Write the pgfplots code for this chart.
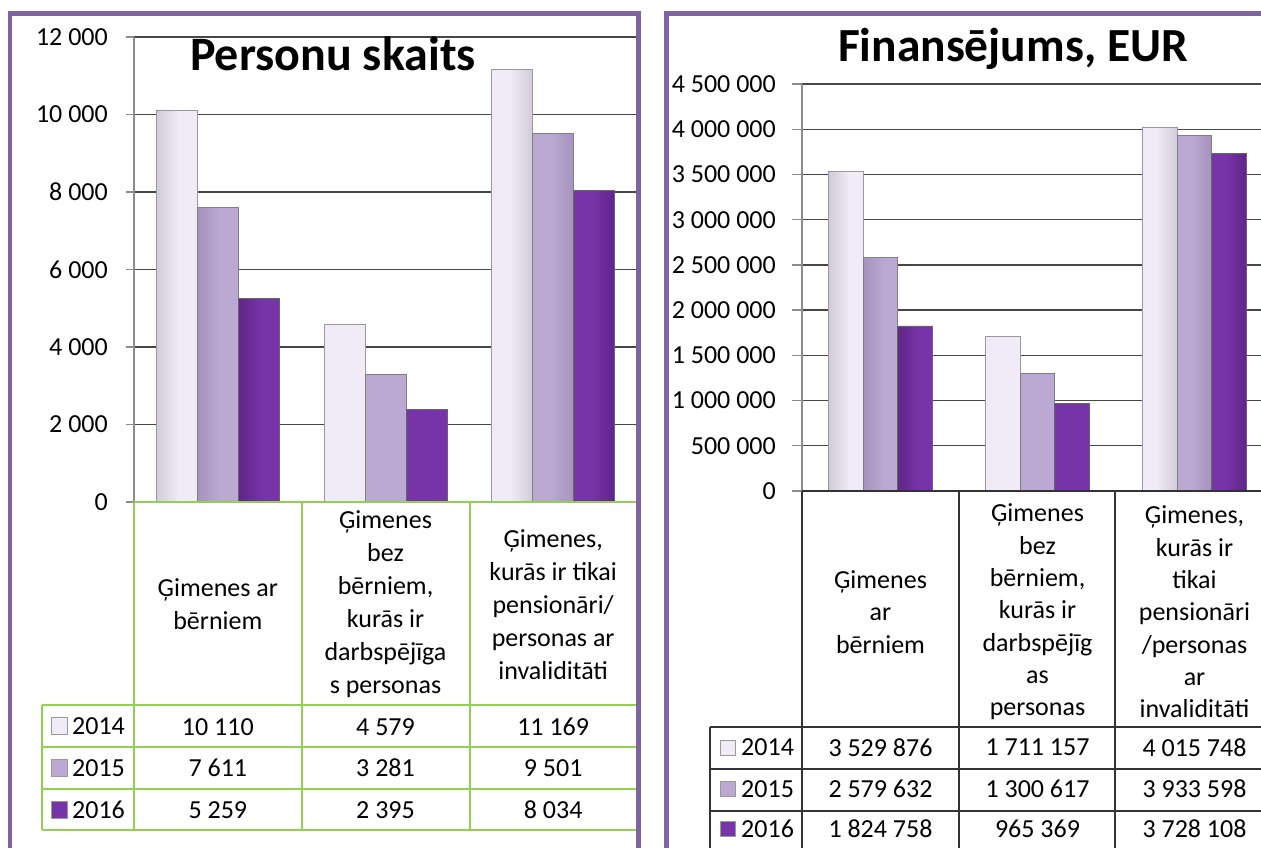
\documentclass[border=0pt]{standalone}
\usepackage{fontspec}
\setmainfont{Carlito}
\usepackage{pgfplots}
\pgfplotsset{compat=1.18}
\usepackage{pgfplotstable}

\definecolor{frame}{HTML}{8064A2}
\definecolor{tgreen}{HTML}{92D050}
\definecolor{cA}{HTML}{F0EBF6}
\definecolor{cAe}{HTML}{D2CCDA}
\definecolor{cB}{HTML}{BBA9D3}
\definecolor{cBe}{HTML}{A593BD}
\definecolor{cC}{HTML}{7634A8}
\definecolor{cCe}{HTML}{5F2588}

\pgfdeclarehorizontalshading{shA}{100bp}{color(0bp)=(cAe); color(25bp)=(cAe); color(28bp)=(cA); color(72bp)=(cA); color(75bp)=(cAe); color(100bp)=(cAe)}
\pgfdeclarehorizontalshading{shB}{100bp}{color(0bp)=(cBe); color(25bp)=(cBe); color(28bp)=(cB); color(72bp)=(cB); color(75bp)=(cBe); color(100bp)=(cBe)}
\pgfdeclarehorizontalshading{shC}{100bp}{color(0bp)=(cCe); color(25bp)=(cCe); color(28bp)=(cC); color(72bp)=(cC); color(75bp)=(cCe); color(100bp)=(cCe)}

\pgfplotstableread{
x a b c
0 10110 7611 5259
1 4579 3281 2395
2 11169 9501 8034
}\persons
\pgfplotstableread{
x a b c
0 3529876 2579632 1824758
1 1711157 1300617 965369
2 4015748 3933598 3728108
}\funds

\newcommand{\myfs}{\fontsize{26}{30}\selectfont}

\pgfplotsset{
  panel/.style={
    scale only axis, anchor=south west,
    xmin=-0.5, xmax=2.5, ymin=0, clip=false,
    axis x line*=bottom, axis y line*=left,
    x axis line style={draw=none},
    y axis line style={-, black!45, line width=1.3pt},
    xtick={0,1,2}, x tick style={draw=none},
    ytick style={black!45, line width=1.3pt},
    tick align=outside,
    yticklabels={},
    ymajorgrids, grid style={black!72, line width=1.3pt},
    scaled y ticks=false,
    /pgf/number format/fixed,
    /pgf/number format/precision=0,
    /pgf/number format/1000 sep={\ },
    /pgf/number format/assume math mode=true,
    xticklabel style={align=center, anchor=center},
  },
  vals/.style={draw=none, mark=none, nodes near coords, point meta=explicit,
    every node near coord/.append style={anchor=center, font=\myfs, black}},
  tlab/.style={draw=none, mark=none, nodes near coords, point meta=y,
    every node near coord/.append style={anchor=east, inner sep=0pt, xshift=-26pt, font=\myfs, black}},
}

\begin{document}
\begin{tikzpicture}
\useasboundingbox (0pt,0pt) rectangle (1261pt,847pt);
\clip (0pt,0pt) rectangle (1261pt,847pt);

% ---------------- left panel ----------------
\begin{axis}[panel, at={(134pt,345pt)}, width=503pt, height=465pt,
  ymax=12000, ytick distance=2000, major tick length=8pt,
  xticklabels={{Ģimenes ar\\bērniem},{Ģimenes\\bez\\bērniem,\\kurās ir\\darbspējīga\\s personas},{Ģimenes,\\kurās ir tikai\\pensionāri/\\personas ar\\invaliditāti}},
  xticklabel style={yshift=-94.5pt, font=\fontsize{26}{33}\selectfont}]
\addplot[ybar, bar width=41pt, bar shift=-41pt, draw=black!40, line width=0.8pt, shading=shA] table[x=x,y=a]{\persons};
\addplot[ybar, bar width=41pt, bar shift=0pt, draw=black!50, line width=0.8pt, shading=shB] table[x=x,y=b]{\persons};
\addplot[ybar, bar width=41pt, bar shift=41pt, draw=black!60, line width=0.8pt, shading=shC] table[x=x,y=c]{\persons};
\addplot[vals] table[x=x, y expr=-5799, meta=a]{\persons};
\addplot[vals] table[x=x, y expr=-6864, meta=b]{\persons};
\addplot[vals] table[x=x, y expr=-7948, meta=c]{\persons};
\addplot[tlab] coordinates {(-0.5,0) (-0.5,2000) (-0.5,4000) (-0.5,6000) (-0.5,8000) (-0.5,10000) (-0.5,12000)};
\end{axis}

% left table grid
\begin{scope}[tgreen, line width=1.6pt]
\draw (134pt,345pt) -- (637pt,345pt);
\foreach \xx in {134,302,470} \draw (\xx pt,345pt) -- (\xx pt,17pt);
\draw (42pt,142pt) -- (42pt,17pt);
\foreach \yy in {142,100,58,17} \draw (42pt,\yy pt) -- (637pt,\yy pt);
\end{scope}

% ---------------- right panel ----------------
\begin{axis}[panel, at={(802pt,356pt)}, width=471pt, height=407pt,
  ymax=4500000, ytick distance=500000, major tick length=10pt,
  xticklabels={{Ģimenes\\ar\\bērniem},{Ģimenes\\bez\\bērniem,\\kurās ir\\darbspējīg\\as\\personas},{Ģimenes,\\kurās ir\\tikai\\pensionāri\\/personas\\ar\\invaliditāti}},
  xticklabel style={yshift=-111pt, font=\fontsize{26}{32.3}\selectfont}]
\addplot[ybar, bar width=34.5pt, bar shift=-34.5pt, draw=black!40, line width=0.8pt, shading=shA] table[x=x,y=a]{\funds};
\addplot[ybar, bar width=34.5pt, bar shift=0pt, draw=black!50, line width=0.8pt, shading=shB] table[x=x,y=b]{\funds};
\addplot[ybar, bar width=34.5pt, bar shift=34.5pt, draw=black!60, line width=0.8pt, shading=shC] table[x=x,y=c]{\funds};
\addplot[vals] table[x=x, y expr=-2836000, meta=a]{\funds};
\addplot[vals] table[x=x, y expr=-3294800, meta=b]{\funds};
\addplot[vals] table[x=x, y expr=-3737100, meta=c]{\funds};
\addplot[tlab] coordinates {(-0.5,0) (-0.5,500000) (-0.5,1000000) (-0.5,1500000) (-0.5,2000000) (-0.5,2500000) (-0.5,3000000) (-0.5,3500000) (-0.5,4000000) (-0.5,4500000)};
\end{axis}

% right table grid
\begin{scope}[black!80, line width=1.4pt]
\draw (802pt,356pt) -- (1261pt,356pt);
\foreach \xx in {802,959,1115} \draw (\xx pt,356pt) -- (\xx pt,-5pt);
\draw (710pt,120pt) -- (710pt,-5pt);
\foreach \yy in {120,78,36} \draw (710pt,\yy pt) -- (1261pt,\yy pt);
\end{scope}

% legend keys
\foreach \yc/\yr/\sh/\lab in {121/99.5/shA/2014, 79/58/shB/2015, 37/18/shC/2016}{
  \fill[shading=\sh, draw=black!40, line width=0.5pt] (51pt,\yc pt-8.5pt) rectangle (67pt,\yc pt+8.5pt);
  \node[anchor=west, font=\myfs, inner sep=0pt] at (72pt,\yc pt) {\lab};
  \fill[shading=\sh, draw=black!40, line width=0.5pt] (720pt,\yr pt-7.5pt) rectangle (735pt,\yr pt+7.5pt);
  \node[anchor=west, font=\myfs, inner sep=0pt] at (741pt,\yr pt) {\lab};
}

% titles
\node[anchor=base, font=\fontsize{48}{54}\selectfont\bfseries, inner sep=0pt] at (333pt,776pt) {Personu skaits};
\node[anchor=base, font=\fontsize{47.5}{54}\selectfont\bfseries, inner sep=0pt] at (1013pt,785pt) {Finansējums, EUR};

% frames
\draw[frame, line width=4.5pt] (10pt,-10pt) -- (10pt,833.5pt) -- (638.5pt,833.5pt) -- (638.5pt,-10pt);
\draw[frame, line width=4.5pt] (666.5pt,-10pt) -- (666.5pt,833.5pt) -- (1275pt,833.5pt);
\end{tikzpicture}
\end{document}
